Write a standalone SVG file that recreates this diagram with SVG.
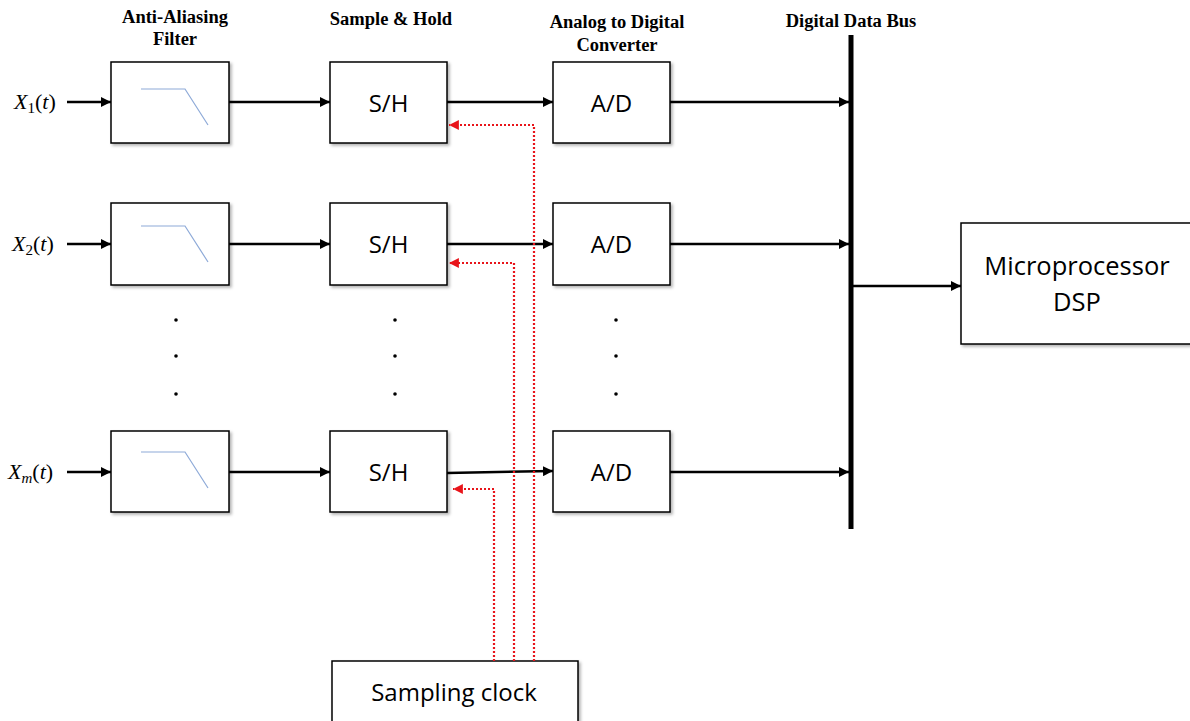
<svg xmlns="http://www.w3.org/2000/svg" width="1190" height="721" viewBox="0 0 1190 721">
  <defs>
    <marker id="arr" viewBox="0 0 10 10" refX="10" refY="5" markerWidth="4" markerHeight="4" orient="auto" markerUnits="strokeWidth">
      <path d="M0,0 L10,5 L0,10 z" fill="#000"/>
    </marker>
    <marker id="arrRed" viewBox="0 0 10 10" refX="10" refY="5" markerWidth="4.5" markerHeight="4.5" orient="auto" markerUnits="strokeWidth">
      <path d="M0,0 L10,5 L0,10 z" fill="#e8141a"/>
    </marker>
    <filter id="shadow" x="-10%" y="-10%" width="125%" height="125%">
      <feDropShadow dx="2" dy="2" stdDeviation="1.5" flood-color="#000" flood-opacity="0.3"/>
    </filter>
  </defs>
  <style>
    .box { fill: #fff; stroke: #000; stroke-width: 1.5; filter: url(#shadow); }
    .lpf { fill: none; stroke: #8eaad8; stroke-width: 1.2; }
    .head { font-family: "Liberation Serif", serif; font-weight: bold; font-size: 18.5px; text-anchor: middle; }
    .lbl { font-family: "Open Sans", "Noto Sans", sans-serif; font-size: 24px; text-anchor: middle; }
    .big { font-size: 25.5px; }
    .sig { font-family: "Liberation Serif", serif; font-style: italic; font-size: 22px; }
    .sub { font-family: "Liberation Serif", serif; font-size: 15px; font-style: normal; }
    .subi { font-style: italic; }
    .up { font-style: normal; }
    .wire { fill: none; stroke: #000; stroke-width: 2.5; marker-end: url(#arr); }
    .clkarr { fill: none; stroke: #e8141a; stroke-width: 2.2; stroke-dasharray: 2 2; marker-end: url(#arrRed); }
    .dot { fill: #000; }
  </style>

  <!-- column headings -->
  <g id="headings">
    <text class="head" x="175" y="23">Anti-Aliasing</text>
    <text class="head" x="175" y="45">Filter</text>
    <text class="head" x="391" y="25">Sample &amp; Hold</text>
    <text class="head" x="617" y="28">Analog to Digital</text>
    <text class="head" x="617" y="51">Converter</text>
    <text class="head" x="851" y="27">Digital Data Bus</text>
  </g>

  <!-- input signal labels -->
  <g id="inputs">
    <text class="sig" x="14" y="109">X<tspan class="sub" dy="4">1</tspan><tspan class="up" dy="-4">(</tspan>t<tspan class="up">)</tspan></text>
    <text class="sig" x="12" y="251">X<tspan class="sub" dy="4">2</tspan><tspan class="up" dy="-4">(</tspan>t<tspan class="up">)</tspan></text>
    <text class="sig" x="8" y="479">X<tspan class="sub subi" dy="4">m</tspan><tspan class="up" dy="-4">(</tspan>t<tspan class="up">)</tspan></text>
  </g>

  <!-- channel 1 -->
  <g id="filter1">
    <rect class="box" x="111" y="62" width="118" height="81"/>
    <polyline class="lpf" points="141,89 185,89 208,125"/>
  </g>
  <g id="sh1">
    <rect class="box" x="330" y="62" width="117" height="81"/>
    <text class="lbl" x="388.5" y="112">S/H</text>
  </g>
  <g id="adc1">
    <rect class="box" x="553" y="62" width="117" height="81"/>
    <text class="lbl" x="611.5" y="112">A/D</text>
  </g>

  <!-- channel 2 -->
  <g id="filter2">
    <rect class="box" x="111" y="203" width="118" height="82"/>
    <polyline class="lpf" points="141,226 185,226 208,262"/>
  </g>
  <g id="sh2">
    <rect class="box" x="330" y="203" width="117" height="82"/>
    <text class="lbl" x="388.5" y="253">S/H</text>
  </g>
  <g id="adc2">
    <rect class="box" x="553" y="203" width="117" height="82"/>
    <text class="lbl" x="611.5" y="253">A/D</text>
  </g>

  <!-- channel m -->
  <g id="filterm">
    <rect class="box" x="111" y="431" width="118" height="81"/>
    <polyline class="lpf" points="141,452 185,452 208,488"/>
  </g>
  <g id="shm">
    <rect class="box" x="330" y="431" width="117" height="81"/>
    <text class="lbl" x="388.5" y="481">S/H</text>
  </g>
  <g id="adcm">
    <rect class="box" x="553" y="431" width="117" height="81"/>
    <text class="lbl" x="611.5" y="481">A/D</text>
  </g>

  <!-- ellipsis between channels -->
  <g id="ellipsis">
    <circle class="dot" cx="176" cy="320" r="1.8"/>
    <circle class="dot" cx="176" cy="356" r="1.8"/>
    <circle class="dot" cx="176" cy="394" r="1.8"/>
    <circle class="dot" cx="395" cy="320" r="1.8"/>
    <circle class="dot" cx="395" cy="356" r="1.8"/>
    <circle class="dot" cx="395" cy="394" r="1.8"/>
    <circle class="dot" cx="616" cy="320" r="1.8"/>
    <circle class="dot" cx="616" cy="356" r="1.8"/>
    <circle class="dot" cx="616" cy="394" r="1.8"/>
  </g>

  <!-- processor -->
  <g id="dsp">
    <rect class="box" x="961" y="223" width="240" height="121"/>
    <text class="lbl big" x="1077" y="275">Microprocessor</text>
    <text class="lbl big" x="1077" y="311">DSP</text>
  </g>

  <!-- clock source -->
  <g id="clock">
    <rect class="box" x="332" y="661" width="246" height="70"/>
    <text class="lbl" x="454" y="701">Sampling clock</text>
  </g>

  <!-- signal paths, data bus and clock lines -->
  <g id="connectors">
    <!-- data bus -->
    <line x1="851" y1="35" x2="851" y2="529" stroke="#000" stroke-width="5"/>

    <path class="wire" d="M67,102 H111"/>
    <path class="wire" d="M229,102 H330"/>
    <path class="wire" d="M447,102 H553"/>
    <path class="wire" d="M670,102 H849"/>

    <path class="wire" d="M67,244 H111"/>
    <path class="wire" d="M229,244 H330"/>
    <path class="wire" d="M447,244 H553"/>
    <path class="wire" d="M670,244 H849"/>

    <path class="wire" d="M67,472 H111"/>
    <path class="wire" d="M229,472 H330"/>
    <path class="wire" d="M447,473 L553,471"/>
    <path class="wire" d="M670,472 H849"/>

    <path class="wire" d="M853,286 H961"/>

    <!-- sampling clock distribution -->
    <path class="clkarr" d="M534,661 V125 H449"/>
    <path class="clkarr" d="M514,661 V263 H449"/>
    <path class="clkarr" d="M494,661 V489 H453"/>
  </g>
</svg>
